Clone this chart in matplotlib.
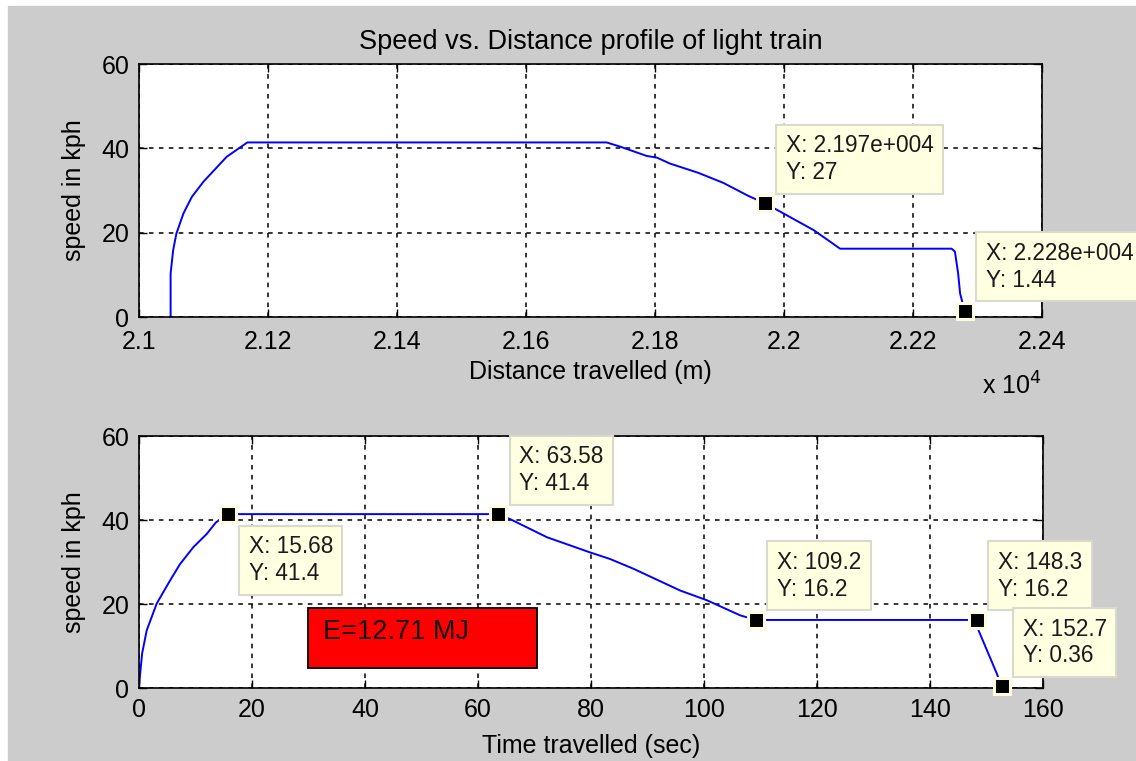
import numpy as np
import matplotlib.pyplot as plt
from matplotlib.patches import Rectangle
from matplotlib.ticker import FuncFormatter

plt.rcParams['font.family'] = ['Liberation Sans', 'DejaVu Sans']

# Speed vs distance (distance in metres, speed in kph)
dist_m = [21049, 21049, 21053, 21058, 21069, 21082, 21100, 21136, 21168,
          21725, 21746, 21787, 21803, 21823, 21867, 21906, 21945, 21970,
          21994, 22046, 22087, 22260, 22265, 22270, 22273, 22280]
speed_dist = [0, 10.3, 15.9, 19.8, 24.6, 28.5, 32.1, 38.0, 41.4,
              41.4, 40.4, 38.2, 37.8, 36.4, 34.2, 31.8, 28.7, 27.0,
              25.0, 20.6, 16.2, 16.2, 15.5, 10.3, 5.6, 1.44]

# Speed vs time (sec)
time_s = [0, 0.18, 0.55, 1.36, 3.13, 5.5, 7.26, 9.6, 12.0, 13.6, 15.68,
          63.58, 65.7, 72.2, 79.8, 83.4, 87.5, 95.8, 100.5, 106.4, 109.2,
          148.3, 148.6, 151.8, 152.7]
speed_time = [0, 3.0, 8.2, 13.7, 20.1, 25.6, 29.5, 33.5, 36.7, 39.4, 41.4,
              41.4, 40.2, 35.9, 32.3, 30.7, 28.4, 23.2, 20.9, 17.3, 16.2,
              16.2, 13.7, 3.5, 0.36]

# data tips
tips_dist_x = [21970, 22280]
tips_dist_y = [27, 1.44]
tips_time_x = [15.68, 63.58, 109.2, 148.3, 152.7]
tips_time_y = [41.4, 41.4, 16.2, 16.2, 0.36]
tips_time_below = [True, False, False, False, False]

energy_label = 'E=12.71 MJ'

GREY = '#cccccc'
TIP_BG = '#ffffe1'
FS = 18


def matlab_num(v):
    # MATLAB style 4 significant digits, 3 digit exponent
    s = f"{v:.4g}"
    if 'e' in s:
        mant, ex = s.split('e')
        s = f"{mant}e{ex[0]}{int(ex[1:]):03d}"
    return s


def style_axes(ax):
    ax.set_facecolor('white')
    ax.grid(True, color='black', linestyle=(0, (3, 3.5)), linewidth=1.1)
    ax.tick_params(direction='in', top=True, right=True, length=6,
                   width=1, labelsize=FS, pad=7, colors='black')
    for sp in ax.spines.values():
        sp.set_linewidth(1.2)


def add_tip(ax, x, y, below=False):
    ax.plot(x, y, 's', ms=11, mfc='black', mec='#fffbe0', mew=2.2,
            zorder=5, clip_on=False)
    txt = f"X: {matlab_num(x)}\nY: {matlab_num(y)}"
    if below:
        off, va = (21, -21), 'top'
    else:
        off, va = (21, 19), 'bottom'
    ax.annotate(txt, xy=(x, y), xytext=off, textcoords='offset pixels',
                ha='left', va=va, fontsize=16.3, color='#1a1a1a',
                linespacing=1.22, zorder=6, annotation_clip=False,
                bbox=dict(boxstyle='square,pad=0.42', fc=TIP_BG,
                          ec='#d9d9cc', lw=1.5))


fig = plt.figure(figsize=(11.36, 7.61), dpi=100, facecolor='white')
fig.patches.append(Rectangle((8 / 1136, 0), 1, 1 - 6 / 761,
                             transform=fig.transFigure, color=GREY,
                             zorder=-10))

ax1 = fig.add_axes([139 / 1136, 1 - 317 / 761, 903 / 1136, 253 / 761])
ax2 = fig.add_axes([139 / 1136, 1 - 688 / 761, 904 / 1136, 252 / 761])

# top: speed vs distance
style_axes(ax1)
ax1.plot(dist_m, speed_dist, color='blue', lw=1.4)
ax1.set_xlim(21000, 22400)
ax1.set_ylim(0, 60)
ax1.set_xticks(np.arange(21000, 22401, 200))
ax1.set_yticks([0, 20, 40, 60])
ax1.tick_params(axis='x', pad=9)
ax1.xaxis.set_major_formatter(FuncFormatter(lambda v, p: f"{v / 1e4:g}"))
ax1.set_title('Speed vs. Distance profile of light train', fontsize=19.5,
              pad=11)
ax1.set_xlabel('Distance travelled (m)', fontsize=FS, labelpad=5)
ax1.set_ylabel('speed in kph', fontsize=FS, labelpad=11)
ax1.text(1.0, -0.22, r'x 10$^{4}$', transform=ax1.transAxes, ha='right',
         va='top', fontsize=FS)
for x, y in zip(tips_dist_x, tips_dist_y):
    add_tip(ax1, x, y)

# bottom: speed vs time
style_axes(ax2)
ax2.plot(time_s, speed_time, color='blue', lw=1.4)
ax2.set_xlim(0, 160)
ax2.set_ylim(0, 60)
ax2.set_xticks(np.arange(0, 161, 20))
ax2.set_yticks([0, 20, 40, 60])
ax2.set_xlabel('Time travelled (sec)', fontsize=FS, labelpad=9)
ax2.set_ylabel('speed in kph', fontsize=FS, labelpad=11)
for x, y, b in zip(tips_time_x, tips_time_y, tips_time_below):
    add_tip(ax2, x, y, below=b)

# energy box
ax2.add_patch(Rectangle((0.187, 0.079), 0.253, 0.238, transform=ax2.transAxes,
                        fc='#ff0000', ec='black', lw=1.3, zorder=4))
ax2.text(0.203, 0.222, energy_label, transform=ax2.transAxes, ha='left',
         va='center', fontsize=19.5, color='#111111', zorder=5)

fig.savefig('out.png', dpi=100, facecolor=fig.get_facecolor())
